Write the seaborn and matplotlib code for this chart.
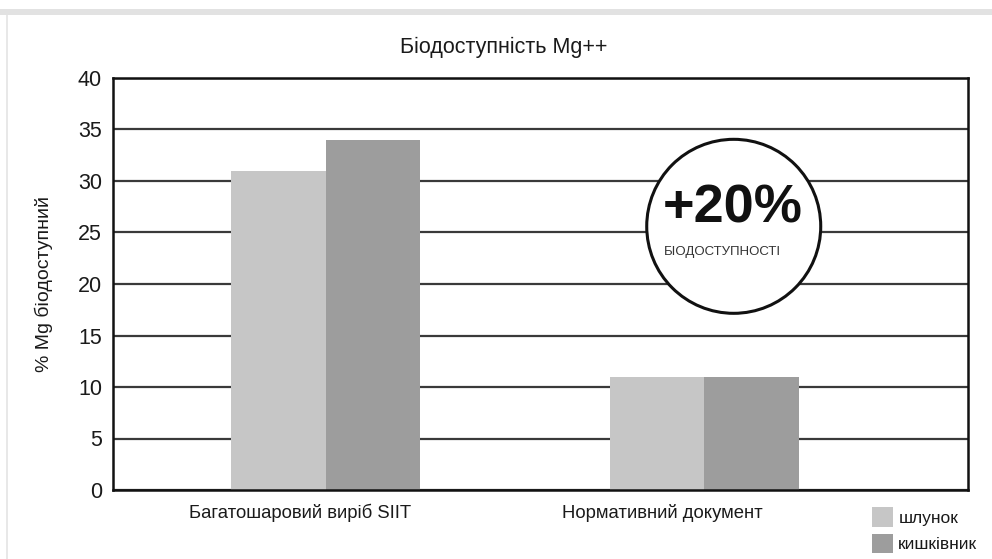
import matplotlib
matplotlib.use("Agg")
import matplotlib.pyplot as plt
import matplotlib.transforms as mtransforms
from matplotlib.patches import Ellipse, Rectangle
import seaborn as sns
import pandas as pd

# ---- data ----
categories = ["Багатошаровий виріб SIIT", "Нормативний документ"]
series_names = ["шлунок", "кишківник"]
stomach = [31, 11]
intestine = [34, 11]
y_ticks = [0, 5, 10, 15, 20, 25, 30, 35, 40]
title = "Біодоступність Mg++"
ylabel = "% Mg біодоступний"
badge_big = "+20%"
badge_small = "БІОДОСТУПНОСТІ"

df = pd.DataFrame({
    "cat": categories * 2,
    "series": [series_names[0]] * 2 + [series_names[1]] * 2,
    "value": stomach + intestine,
})

sns.set_theme(style="white")
plt.rcParams["font.family"] = ["Liberation Sans", "DejaVu Sans"]

fig = plt.figure(figsize=(9.92, 5.59), dpi=100)
fig.patch.set_facecolor("white")
ax = fig.add_axes([113 / 992, 69 / 559, 855 / 992, 412 / 559])

palette = {series_names[0]: "#c6c6c6", series_names[1]: "#9d9d9d"}
sns.barplot(data=df, x="cat", y="value", hue="series", hue_order=series_names,
            order=categories, palette=palette, width=0.5, saturation=1,
            edgecolor="none", linewidth=0, ax=ax)

ax.set_xlim(-0.563, 1.698)
ax.set_ylim(0, 40)
ax.set_yticks(y_ticks)
ax.set_axisbelow(True)
ax.yaxis.grid(True, color="#3a3a3a", linewidth=1.6)
ax.xaxis.grid(False)
for s in ax.spines.values():
    s.set_visible(True)
    s.set_color("#111111")
    s.set_linewidth(1.8)
ax.tick_params(axis="both", length=0)
ax.tick_params(axis="y", labelsize=15.5, pad=8, labelcolor="#1a1a1a")
ax.tick_params(axis="x", labelsize=13.3, pad=10, labelcolor="#1a1a1a")
ax.set_xlabel("")
ax.set_ylabel(ylabel, fontsize=14, color="#1a1a1a", labelpad=18)

# shift x tick labels slightly left, as in the reference
for lab, dx in zip(ax.get_xticklabels(), [-26, -42]):
    off = mtransforms.ScaledTranslation(dx / 100, 0, fig.dpi_scale_trans)
    lab.set_transform(lab.get_transform() + off)

fig.text(504 / 992, 1 - 47 / 559, title, ha="center", va="center",
         fontsize=15.5, color="#1a1a1a")

# legend
sns.move_legend(ax, "upper left", bbox_to_anchor=(0.888, -0.042), frameon=False,
                title=None, fontsize=12.5, handlelength=1.2, handleheight=1.35,
                handletextpad=0.3, labelspacing=0.4, borderaxespad=0,
                borderpad=0)
for t in ax.get_legend().get_texts():
    t.set_color("#1a1a1a")

# badge circle
circ = Ellipse((0.726, 0.64), 174 / 855, 174 / 412, transform=ax.transAxes,
               facecolor="white", edgecolor="#111111", linewidth=2.2,
               zorder=10, clip_on=False)
ax.add_patch(circ)
ax.text(0.725, 0.684, badge_big, transform=ax.transAxes, ha="center",
        va="center", fontsize=39, fontweight="bold", color="#111111",
        zorder=11)
ax.text(0.713, 0.578, badge_small, transform=ax.transAxes, ha="center",
        va="center", fontsize=9.5, color="#333333", zorder=11)

# light grey frame edges of the screenshot
fig.add_artist(Rectangle((0, 1 - 15 / 559), 1, 6 / 559, transform=fig.transFigure,
                         facecolor="#e2e2e2", edgecolor="none"))
fig.add_artist(Rectangle((6 / 992, 0), 2 / 992, 1 - 15 / 559, transform=fig.transFigure,
                         facecolor="#e8e8e8", edgecolor="none"))

fig.savefig("out.png", dpi=100)
